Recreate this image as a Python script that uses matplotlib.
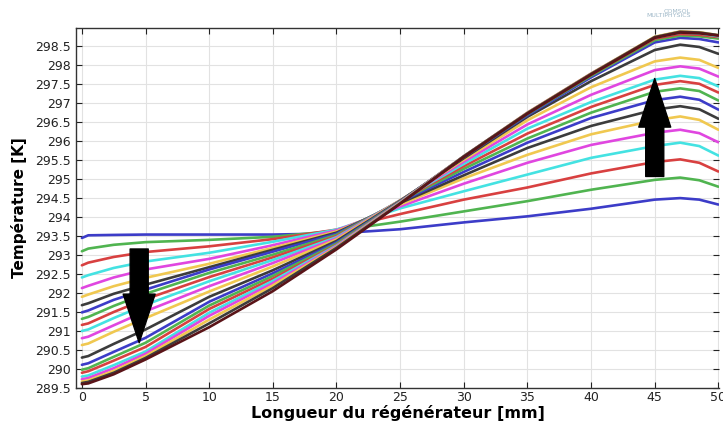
import matplotlib
matplotlib.use("Agg")
import matplotlib.pyplot as plt
from matplotlib.ticker import MultipleLocator, FormatStrFormatter

# positions along the regenerator [mm]
x_mm = [0, 0.5, 2.5, 5, 10, 15, 20, 25, 30, 35, 40, 45, 47, 48.5, 50]

# temperature profiles [K], one per time step
c00 = [293.45, 293.52, 293.53, 293.54, 293.54, 293.54, 293.57, 293.68, 293.86, 294.02, 294.22, 294.46, 294.50, 294.46, 294.33]
c01 = [293.10, 293.17, 293.27, 293.34, 293.40, 293.48, 293.64, 293.88, 294.15, 294.42, 294.72, 294.98, 295.04, 294.97, 294.80]
c02 = [292.73, 292.80, 292.95, 293.08, 293.23, 293.42, 293.67, 294.08, 294.46, 294.78, 295.15, 295.45, 295.52, 295.43, 295.20]
c03 = [292.41, 292.47, 292.66, 292.83, 293.06, 293.35, 293.67, 294.23, 294.68, 295.12, 295.56, 295.87, 295.96, 295.87, 295.62]
c04 = [292.13, 292.19, 292.41, 292.62, 292.90, 293.26, 293.65, 294.28, 294.88, 295.43, 295.90, 296.22, 296.30, 296.21, 295.97]
c05 = [291.90, 291.96, 292.18, 292.40, 292.77, 293.19, 293.62, 294.33, 295.02, 295.64, 296.18, 296.55, 296.65, 296.56, 296.30]
c06 = [291.68, 291.73, 291.98, 292.22, 292.68, 293.14, 293.59, 294.37, 295.10, 295.82, 296.40, 296.83, 296.92, 296.84, 296.59]
c07 = [291.49, 291.54, 291.82, 292.09, 292.62, 293.09, 293.56, 294.40, 295.19, 295.96, 296.61, 297.08, 297.17, 297.09, 296.83]
c08 = [291.32, 291.37, 291.66, 291.98, 292.53, 293.01, 293.53, 294.42, 295.27, 296.07, 296.75, 297.30, 297.39, 297.32, 297.07]
c09 = [291.16, 291.20, 291.50, 291.84, 292.42, 292.94, 293.50, 294.43, 295.34, 296.20, 296.90, 297.48, 297.58, 297.51, 297.28]
c10 = [291.00, 291.04, 291.34, 291.69, 292.31, 292.87, 293.47, 294.44, 295.40, 296.33, 297.03, 297.62, 297.72, 297.66, 297.44]
c11 = [290.81, 290.85, 291.15, 291.52, 292.18, 292.79, 293.44, 294.44, 295.46, 296.44, 297.22, 297.87, 297.97, 297.91, 297.70]
c12 = [290.63, 290.67, 290.98, 291.34, 292.04, 292.70, 293.41, 294.44, 295.51, 296.55, 297.42, 298.10, 298.20, 298.14, 297.93]
c13 = [290.30, 290.34, 290.66, 291.04, 291.90, 292.60, 293.37, 294.43, 295.55, 296.64, 297.58, 298.40, 298.54, 298.48, 298.30]
c14 = [290.11, 290.15, 290.45, 290.82, 291.77, 292.52, 293.33, 294.42, 295.58, 296.68, 297.68, 298.60, 298.72, 298.69, 298.60]
c15 = [289.98, 290.02, 290.32, 290.69, 291.67, 292.45, 293.30, 294.41, 295.59, 296.71, 297.72, 298.66, 298.78, 298.76, 298.70]
c16 = [289.90, 289.94, 290.22, 290.58, 291.58, 292.38, 293.27, 294.40, 295.60, 296.73, 297.75, 298.70, 298.82, 298.80, 298.74]
c17 = [289.80, 289.83, 290.10, 290.46, 291.48, 292.32, 293.25, 294.39, 295.60, 296.74, 297.77, 298.73, 298.86, 298.84, 298.76]
c18 = [289.73, 289.76, 290.02, 290.40, 291.40, 292.26, 293.23, 294.38, 295.60, 296.75, 297.78, 298.74, 298.88, 298.86, 298.78]
c19 = [289.67, 289.70, 289.95, 290.34, 291.30, 292.20, 293.21, 294.37, 295.60, 296.75, 297.78, 298.75, 298.89, 298.87, 298.79]
c20 = [289.63, 289.66, 289.90, 290.29, 291.20, 292.13, 293.19, 294.36, 295.60, 296.74, 297.77, 298.74, 298.88, 298.86, 298.79]
c21 = [289.60, 289.62, 289.86, 290.25, 291.10, 292.05, 293.15, 294.35, 295.58, 296.72, 297.75, 298.72, 298.86, 298.84, 298.78]

curves = [c00, c01, c02, c03, c04, c05, c06, c07, c08, c09, c10,
          c11, c12, c13, c14, c15, c16, c17, c18, c19, c20, c21]

# comsol colour cycle, last curve is dark red
cycle = ["#3c3cc8", "#50b450", "#d84040", "#44e2e2", "#e046e0", "#f0c850", "#3c3c3c"]
last_color = "#5a1418"

fig = plt.figure(figsize=(7.23, 4.24), dpi=100)
ax = fig.add_axes([0.105, 0.085, 0.8895, 0.849])

for i, c in enumerate(curves):
    col = last_color if i == len(curves) - 1 else cycle[i % len(cycle)]
    ax.plot(x_mm, c, color=col, lw=1.9, solid_capstyle="round", solid_joinstyle="round")

ax.set_xlim(-0.47, 50.05)
ax.set_ylim(289.5, 298.98)
ax.xaxis.set_major_locator(MultipleLocator(5))
ax.yaxis.set_major_locator(MultipleLocator(0.5))
ax.yaxis.set_major_formatter(FormatStrFormatter("%g"))
ax.grid(True, color="#e2e2e2", lw=0.8)
ax.set_axisbelow(True)
ax.tick_params(direction="in", length=4, labelsize=9, colors="#222222",
               top=True, right=True)
ax.tick_params(axis="x", pad=2)
for s in ["left", "bottom", "top"]:
    ax.spines[s].set_color("#333333")
    ax.spines[s].set_linewidth(1.0)
ax.spines["right"].set_visible(False)

ax.set_xlabel("Longueur du régénérateur [mm]", fontsize=11.5, fontweight="bold", labelpad=1)
ax.set_ylabel("Température [K]", fontsize=11, fontweight="bold", labelpad=6)

# the two big black arrows
arrow = dict(arrowstyle="simple,head_length=0.7,head_width=0.46,tail_width=0.26",
             color="black", shrinkA=0, shrinkB=0, mutation_scale=50)
ax.annotate("", xy=(4.5, 290.69), xytext=(4.5, 293.16), arrowprops=arrow)
ax.annotate("", xy=(45.0, 297.65), xytext=(45.0, 295.07), arrowprops=arrow)

fig.text(0.955, 0.968, "COMSOL\nMULTIPHYSICS", ha="right", va="center",
         fontsize=4.5, color="#9fb8c8", linespacing=0.9)

fig.savefig("out.png", dpi=100)
